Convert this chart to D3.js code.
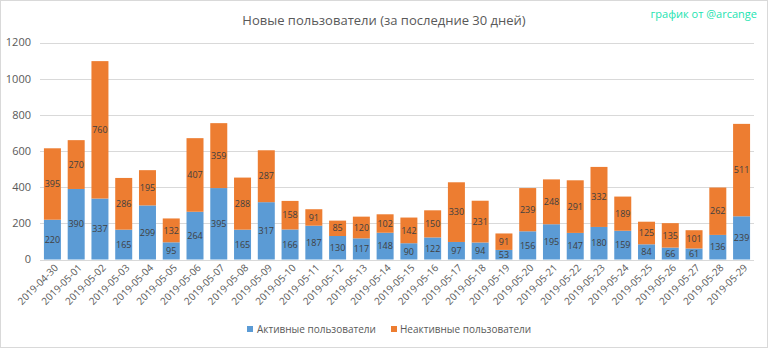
<!DOCTYPE html>
<html><head><meta charset="utf-8">
<script src="https://cdn.jsdelivr.net/npm/d3@7/dist/d3.min.js"></script>
<style>body{margin:0;background:#fff}svg{display:block;font-family:"Open Sans","Noto Sans",sans-serif}</style>
</head><body>
<script>
const dates = ["2019-04-30","2019-05-01","2019-05-02","2019-05-03","2019-05-04","2019-05-05","2019-05-06","2019-05-07","2019-05-08","2019-05-09","2019-05-10","2019-05-11","2019-05-12","2019-05-13","2019-05-14","2019-05-15","2019-05-16","2019-05-17","2019-05-18","2019-05-19","2019-05-20","2019-05-21","2019-05-22","2019-05-23","2019-05-24","2019-05-25","2019-05-26","2019-05-27","2019-05-28","2019-05-29"];
const active = [220,390,337,165,299,95,264,395,165,317,166,187,130,117,148,90,122,97,94,53,156,195,147,180,159,84,66,61,136,239];
const inactive = [395,270,760,286,195,132,407,359,288,287,158,91,85,120,102,142,150,330,231,91,239,248,291,332,189,125,135,101,262,511];
const yTicks = [0,200,400,600,800,1000,1200];
const seriesNames = ["Активные пользователи","Неактивные пользователи"];
const colors = ["#5b9bd5","#ed7d31"];

const W=768,H=349;
const svg=d3.select("body").append("svg").attr("width",W).attr("height",H);
svg.append("rect").attr("x",0.5).attr("y",0.5).attr("width",W-1).attr("height",H-2).attr("fill","#fff").attr("stroke","#d9d9d9");

const x=d3.scaleBand().domain(dates).range([40.6,753.4]).paddingInner(0.285).paddingOuter(0.14);
const y=d3.scaleLinear().domain([0,1200]).range([259.5,42.5]);

// gridlines
svg.append("g").selectAll("line").data(yTicks).join("line")
  .attr("x1",40).attr("x2",754).attr("y1",d=>Math.round(y(d))+0.5).attr("y2",d=>Math.round(y(d))+0.5)
  .attr("stroke","#d9d9d9").attr("stroke-width",1);

// y labels
svg.append("g").selectAll("text").data(yTicks).join("text")
  .attr("x",31).attr("y",d=>y(d)).attr("dy","0.35em").attr("text-anchor","end")
  .attr("font-size",11).attr("fill","#595959").text(d=>d);

const stackData=dates.map((d,i)=>({date:d,a:active[i],b:inactive[i]}));
const stack=d3.stack().keys(["a","b"])(stackData);

const g=svg.append("g");
stack.forEach((layer,li)=>{
  g.append("g").selectAll("rect").data(layer).join("rect")
    .attr("x",d=>x(d.data.date)).attr("width",x.bandwidth())
    .attr("y",d=>y(d[1])).attr("height",d=>y(d[0])-y(d[1]))
    .attr("fill",colors[li]);
  g.append("g").selectAll("text").data(layer).join("text")
    .attr("x",d=>x(d.data.date)+x.bandwidth()/2)
    .attr("y",d=>(y(d[0])+y(d[1]))/2).attr("dy","0.35em")
    .attr("text-anchor","middle").attr("font-size",9).attr("fill","#404040")
    .text(d=>d[1]-d[0]);
});

// x labels
svg.append("g").selectAll("text").data(dates).join("text")
  .attr("transform",d=>`translate(${x(d)+x.bandwidth()/2+4},${266}) rotate(-45)`)
  .attr("text-anchor","end").attr("dy","0.35em").attr("font-size",10).attr("fill","#595959").text(d=>d);

// title
svg.append("text").attr("x",384).attr("y",20).attr("dy","0.35em").attr("text-anchor","middle")
  .attr("font-size",13).attr("fill","#595959").text("Новые пользователи (за последние 30 дней)");
svg.append("text").attr("x",757).attr("y",14).attr("dy","0.35em").attr("text-anchor","end")
  .attr("font-size",11).attr("fill","#22e3b0").text("график от @arcange");

// legend
const leg=[{x:247,tx:257},{x:391,tx:400}];
seriesNames.forEach((n,i)=>{
  svg.append("rect").attr("x",leg[i].x).attr("y",326).attr("width",6).attr("height",6).attr("fill",colors[i]);
  svg.append("text").attr("x",leg[i].tx).attr("y",329).attr("dy","0.35em").attr("font-size",10).attr("fill","#595959").text(n);
});
</script>
</body></html>
